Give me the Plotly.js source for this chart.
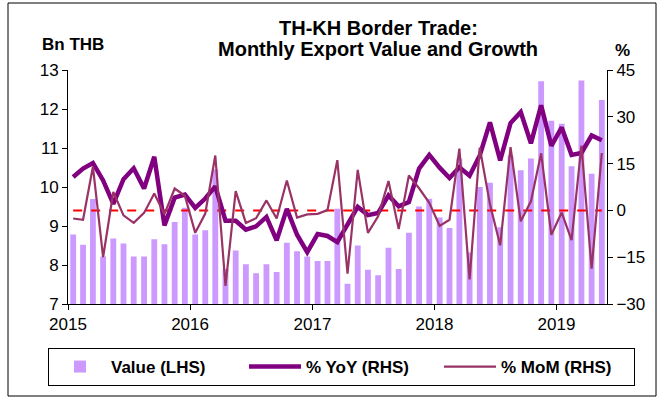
<!DOCTYPE html>
<html>
<head>
<meta charset="utf-8">
<script src="https://cdn.plot.ly/plotly-3.0.1.min.js"></script>
<style>html,body{margin:0;padding:0;background:#fff;}#chart{width:669px;height:401px;}</style>
</head>
<body>
<div id="chart"></div>
<script>
var months = ['2015-01-01','2015-02-01','2015-03-01','2015-04-01','2015-05-01','2015-06-01','2015-07-01','2015-08-01','2015-09-01','2015-10-01','2015-11-01','2015-12-01',
'2016-01-01','2016-02-01','2016-03-01','2016-04-01','2016-05-01','2016-06-01','2016-07-01','2016-08-01','2016-09-01','2016-10-01','2016-11-01','2016-12-01',
'2017-01-01','2017-02-01','2017-03-01','2017-04-01','2017-05-01','2017-06-01','2017-07-01','2017-08-01','2017-09-01','2017-10-01','2017-11-01','2017-12-01',
'2018-01-01','2018-02-01','2018-03-01','2018-04-01','2018-05-01','2018-06-01','2018-07-01','2018-08-01','2018-09-01','2018-10-01','2018-11-01','2018-12-01',
'2019-01-01','2019-02-01','2019-03-01','2019-04-01','2019-05-01'];

var valueBn = [8.78,8.52,9.69,8.22,8.68,8.55,8.22,8.22,8.66,8.53,9.10,9.47,
8.78,8.89,10.45,7.90,8.37,8.02,7.79,8.02,7.82,8.57,8.35,8.22,
8.10,8.10,9.44,7.52,8.50,7.88,7.74,8.44,7.90,8.83,9.50,9.70,
9.22,8.95,10.73,8.32,10.00,10.11,8.97,10.81,10.43,10.73,12.71,11.70,
11.62,10.53,12.73,10.34,12.23];

var yoyPct = [10.7,13.4,15.2,9.6,2.1,10.0,13.5,7.0,17.2,-4.8,4.1,5.1,
0.8,3.8,7.7,-3.3,-3.3,-6.2,-5.1,-2.1,-9.6,0.5,-7.8,-13.4,
-7.6,-8.2,-10.2,-4.5,1.1,-1.5,-0.8,4.8,1.3,2.7,13.4,17.8,
13.7,10.4,13.8,11.1,17.6,28.2,16.0,28.0,31.5,21.5,33.7,20.7,
26.6,17.8,18.4,24.0,22.5];

var momPct = [-2.6,-3.0,14.0,-15.0,5.9,-1.6,-4.0,-0.8,5.4,-1.2,7.0,4.7,
-7.2,-1.0,17.6,-24.2,6.2,-4.0,-2.5,3.2,-2.6,9.6,-2.3,-1.3,
-1.1,0.1,16.1,-20.3,13.0,-7.2,-1.9,9.4,-6.0,11.2,7.1,2.4,
-5.0,-3.0,19.8,-22.1,20.1,2.0,-11.2,20.3,-3.5,2.9,18.3,-7.8,
-0.7,-9.5,20.8,-18.7,18.4];

var yearTicks = ['2015-01-01','2016-01-01','2017-01-01','2018-01-01','2019-01-01'];
var yearLabels = ['2015','2016','2017','2018','2019'];

var FONT = 'Arial, "Liberation Sans", sans-serif';

var traces = [
  {type:'bar', x:months, y:valueBn, name:'<b>Value (LHS)</b>', marker:{color:'#CC99FF'},
   xperiod:'M1', xperiodalignment:'middle', yaxis:'y'},
  {type:'scatter', mode:'lines', x:[months[0], months[months.length-1]], y:[0,0], yaxis:'y2',
   xperiod:'M1', xperiodalignment:'middle',
   line:{color:'#FF0000', width:2, dash:'dash'}, showlegend:false, hoverinfo:'skip'},
  {type:'scatter', mode:'lines', x:months, y:yoyPct, name:'<b>% YoY (RHS)</b>', yaxis:'y2',
   xperiod:'M1', xperiodalignment:'middle',
   line:{color:'#800080', width:4.5}},
  {type:'scatter', mode:'lines', x:months, y:momPct, name:'<b>% MoM (RHS)</b>', yaxis:'y2',
   xperiod:'M1', xperiodalignment:'middle',
   line:{color:'#993366', width:2.2}}
];

var W = 539, H = 234, L = 68, T = 70;
function px(x){return (x - L)/W;}
function py(y){return (T + H - y)/H;}

var layout = {
  width:669, height:401,
  margin:{l:68, r:62, t:70, b:97},
  paper_bgcolor:'#fff', plot_bgcolor:'#fff',
  font:{family:FONT, color:'#000', size:16},
  bargap:0.41,
  xaxis:{type:'date', range:['2015-01-01','2019-06-01'], tickmode:'array', tickvals:yearTicks, ticktext:yearLabels,
    ticks:'outside', ticklen:5, tickcolor:'#000', showline:true, linecolor:'#000', linewidth:1,
    showgrid:false, zeroline:false, tickfont:{size:17}},
  yaxis:{range:[7,13], dtick:1, ticks:'outside', ticklen:5, tickcolor:'#000', showline:true, linecolor:'#000',
    linewidth:1, showgrid:false, zeroline:false, tickfont:{size:17}},
  yaxis2:{range:[-30,45], dtick:15, overlaying:'y', side:'right', ticks:'outside', ticklen:5, tickcolor:'#000',
    showline:true, linecolor:'#000', linewidth:1, showgrid:false, zeroline:false, tickfont:{size:17}},
  legend:{orientation:'h', x:px(48), xanchor:'left', y:py(348), yanchor:'top',
    bordercolor:'#000', borderwidth:1, font:{size:17, family:FONT}, entrywidth:128, itemwidth:52, traceorder:'normal'},
  annotations:[
    {text:'<b>TH-KH Border Trade:</b>', xref:'paper', yref:'paper', x:px(378), y:py(28), xanchor:'center', yanchor:'middle',
     showarrow:false, font:{size:20, family:FONT}},
    {text:'<b>Monthly Export Value and Growth</b>', xref:'paper', yref:'paper', x:px(378), y:py(49), xanchor:'center', yanchor:'middle',
     showarrow:false, font:{size:20, family:FONT}},
    {text:'<b>Bn THB</b>', xref:'paper', yref:'paper', x:px(73), y:py(45), xanchor:'center', yanchor:'middle',
     showarrow:false, font:{size:17, family:FONT}},
    {text:'<b>%</b>', xref:'paper', yref:'paper', x:px(622), y:py(50), xanchor:'center', yanchor:'middle',
     showarrow:false, font:{size:17, family:FONT}}
  ],
  shapes:[
    {type:'rect', xref:'paper', yref:'paper', x0:px(8), x1:px(656), y0:py(396), y1:py(3),
     line:{color:'#000', width:1}, fillcolor:'rgba(0,0,0,0)', layer:'below'}
  ]
};

Plotly.newPlot('chart', traces, layout, {displayModeBar:false, staticPlot:true});
</script>
</body>
</html>
